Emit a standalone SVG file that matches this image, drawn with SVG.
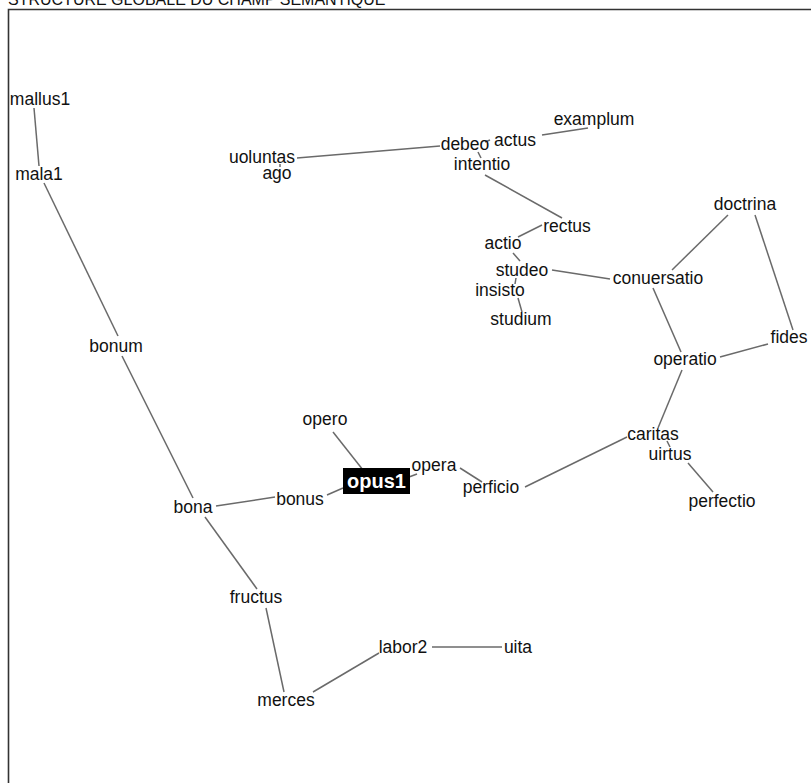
<svg xmlns="http://www.w3.org/2000/svg" width="811" height="783" viewBox="0 0 811 783">
<style>
.t{font-family:"Liberation Sans",Arial,sans-serif;font-size:17.5px;fill:#111;text-anchor:middle}
.e line{stroke:#6a6a6a;stroke-width:1.5}
.title{font-family:"Liberation Sans",Arial,sans-serif;font-size:16px;fill:#111}
</style>
<rect width="811" height="783" fill="#fff"/>
<text class="title" x="8" y="5">STRUCTURE GLOBALE DU CHAMP SEMANTIQUE</text>
<path d="M8.5,783 V9.5 H811" fill="none" stroke="#333" stroke-width="1.6"/>
<g class="e" id="edges">
<line x1="34" y1="108" x2="39" y2="166"/>
<line x1="44" y1="183" x2="118" y2="336"/>
<line x1="122" y1="356" x2="193" y2="498"/>
<line x1="216" y1="506" x2="275" y2="497"/>
<line x1="205" y1="517" x2="257" y2="589"/>
<line x1="266" y1="608" x2="284" y2="692"/>
<line x1="313" y1="692" x2="379" y2="653"/>
<line x1="432" y1="647" x2="502" y2="647"/>
<line x1="327" y1="495" x2="343" y2="488"/>
<line x1="333" y1="432" x2="363" y2="470"/>
<line x1="409" y1="477" x2="417" y2="474"/>
<line x1="460" y1="468" x2="482" y2="482"/>
<line x1="525" y1="487" x2="627" y2="437"/>
<line x1="658" y1="428" x2="682" y2="370"/>
<line x1="667" y1="441" x2="670" y2="447"/>
<line x1="688" y1="463" x2="713" y2="492"/>
<line x1="720" y1="357" x2="768" y2="344"/>
<line x1="653" y1="288" x2="681" y2="352"/>
<line x1="672" y1="270" x2="728" y2="215"/>
<line x1="755" y1="215" x2="793" y2="330"/>
<line x1="552" y1="270" x2="610" y2="279"/>
<line x1="513" y1="253" x2="520" y2="261"/>
<line x1="518" y1="237" x2="542" y2="225"/>
<line x1="485" y1="175" x2="562" y2="218"/>
<line x1="516" y1="278" x2="515" y2="284"/>
<line x1="518" y1="298" x2="522" y2="312"/>
<line x1="478" y1="152" x2="481" y2="158"/>
<line x1="485" y1="142" x2="490" y2="140"/>
<line x1="297" y1="158" x2="440" y2="146"/>
<line x1="280" y1="164" x2="280" y2="167"/>
<line x1="542" y1="135" x2="588" y2="128"/>
</g>
<g id="mallus1"><text class="t" x="40" y="105">mallus1</text></g>
<g id="mala1"><text class="t" x="39" y="180">mala1</text></g>
<g id="bonum"><text class="t" x="116" y="352">bonum</text></g>
<g id="bona"><text class="t" x="193" y="513">bona</text></g>
<g id="bonus"><text class="t" x="300" y="505">bonus</text></g>
<g id="opus1"><rect x="343" y="468" width="67" height="26" fill="#000"/><text x="376.5" y="488" font-family="'Liberation Sans',Arial,sans-serif" font-size="20px" font-weight="bold" fill="#fff" text-anchor="middle">opus1</text></g>
<g id="opero"><text class="t" x="325" y="425">opero</text></g>
<g id="opera"><text class="t" x="434" y="471">opera</text></g>
<g id="perficio"><text class="t" x="491" y="493">perficio</text></g>
<g id="caritas"><text class="t" x="653" y="440">caritas</text></g>
<g id="uirtus"><text class="t" x="670" y="460">uirtus</text></g>
<g id="perfectio"><text class="t" x="722" y="507">perfectio</text></g>
<g id="operatio"><text class="t" x="685" y="365">operatio</text></g>
<g id="fides"><text class="t" x="789" y="343">fides</text></g>
<g id="conuersatio"><text class="t" x="658" y="284">conuersatio</text></g>
<g id="doctrina"><text class="t" x="745" y="210">doctrina</text></g>
<g id="rectus"><text class="t" x="567" y="232">rectus</text></g>
<g id="actio"><text class="t" x="503" y="249">actio</text></g>
<g id="studeo"><text class="t" x="522" y="276">studeo</text></g>
<g id="insisto"><text class="t" x="500" y="296">insisto</text></g>
<g id="studium"><text class="t" x="521" y="325">studium</text></g>
<g id="debeo"><text class="t" x="465" y="150">debeo</text></g>
<g id="actus"><text class="t" x="515" y="146">actus</text></g>
<g id="intentio"><text class="t" x="482" y="170">intentio</text></g>
<g id="examplum"><text class="t" x="594" y="125">examplum</text></g>
<g id="uoluntas"><text class="t" x="262" y="163">uoluntas</text></g>
<g id="ago"><text class="t" x="277" y="179">ago</text></g>
<g id="fructus"><text class="t" x="256" y="603">fructus</text></g>
<g id="merces"><text class="t" x="286" y="706">merces</text></g>
<g id="labor2"><text class="t" x="403" y="653">labor2</text></g>
<g id="uita"><text class="t" x="518" y="653">uita</text></g>
</svg>
